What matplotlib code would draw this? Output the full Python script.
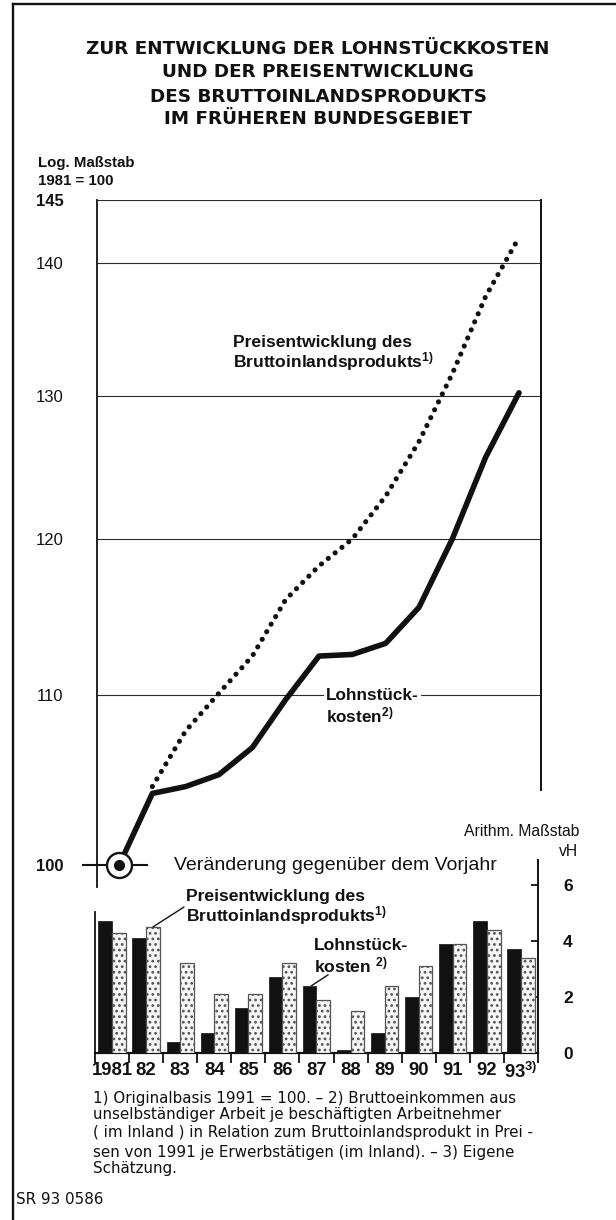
import matplotlib
matplotlib.use('Agg')
import matplotlib.pyplot as plt
from matplotlib.lines import Line2D
import numpy as np

plt.rcParams['font.family'] = ['Liberation Sans', 'DejaVu Sans']
plt.rcParams['mathtext.fontset'] = 'custom'
plt.rcParams['mathtext.rm'] = 'Liberation Sans'
plt.rcParams['mathtext.bf'] = 'Liberation Sans:bold'
plt.rcParams['mathtext.it'] = 'Liberation Sans:italic'
plt.rcParams['hatch.linewidth'] = 1.2

# ---------------- data ----------------
years = [1981, 1982, 1983, 1984, 1985, 1986, 1987, 1988, 1989, 1990, 1991, 1992, 1993]
year_labels = ['1981', '82', '83', '84', '85', '86', '87', '88', '89', '90', '91', '92',
               '93$^{\\mathbf{3)}}$']
# index, log scale, 1981 = 100
lohn_index = [100.0, 104.1, 104.5, 105.2, 106.8, 109.7, 112.4, 112.5, 113.2, 115.5, 120.0, 125.6, 130.2]
preis_index = [100.0, 104.5, 107.8, 110.1, 112.4, 116.0, 118.2, 120.0, 122.9, 126.7, 131.6, 137.4, 142.0]
# change against previous year, vH
lohn_change = [4.7, 4.1, 0.4, 0.7, 1.6, 2.7, 2.4, 0.1, 0.7, 2.0, 3.9, 4.7, 3.7]
preis_change = [4.3, 4.5, 3.2, 2.1, 2.1, 3.2, 1.9, 1.5, 2.4, 3.1, 3.9, 4.4, 3.4]
top_ticks = [100, 110, 120, 130, 140, 145]
top_tick_labels = ['100', '110', '120', '130', '140', '145']
bar_ticks = [0, 2, 4, 6]
bar_tick_labels = ['0', '2', '4', '6']

title_lines = ['ZUR ENTWICKLUNG DER LOHNSTÜCKKOSTEN',
               'UND DER PREISENTWICKLUNG',
               'DES BRUTTOINLANDSPRODUKTS',
               'IM FRÜHEREN BUNDESGEBIET']
footnotes = ['1) Originalbasis 1991 = 100. – 2) Bruttoeinkommen aus',
             'unselbständiger Arbeit je beschäftigten Arbeitnehmer',
             '( im Inland ) in Relation zum Bruttoinlandsprodukt in Prei -',
             'sen von 1991 je Erwerbstätigen (im Inland). – 3) Eigene',
             'Schätzung.']

# ---------------- layout helpers ----------------
W, H = 616, 1220
INK = '#111111'
fig = plt.figure(figsize=(W / 100, H / 100), dpi=100)
fig.patch.set_facecolor('white')


def fx(px):
    return px / W


def fy(py):
    return 1 - py / H


def ftext(px, py, s, **kw):
    kw.setdefault('color', INK)
    return fig.text(fx(px), fy(py), s, **kw)


# outer frame (left and top)
fig.add_artist(Line2D([fx(13), fx(13)], [fy(4), fy(1220)], color=INK, lw=1.7))
fig.add_artist(Line2D([fx(13), fx(616)], [fy(4), fy(4)], color=INK, lw=1.7))

# title
for s, py in zip(title_lines, [49, 72, 97, 119]):
    ftext(318, py, s, ha='center', va='center', fontsize=13.2,
          fontweight='bold', family='DejaVu Sans')

ftext(38, 163, 'Log. Maßstab', ha='left', va='center', fontsize=10.8, fontweight='bold')
ftext(38, 181, '1981 = 100', ha='left', va='center', fontsize=10.8, fontweight='bold')

# ---------------- top (log) chart ----------------
ax = fig.add_axes([fx(97), fy(887), 444 / W, (887 - 200) / H])
ax.set_facecolor('none')
ax.set_yscale('log')
ax.set_ylim(98.8, 145)
ax.set_xlim(1980.34, 1993.66)
# the dotted line is hidden under the solid one in its first segment
ax.plot(years[1:], preis_index[1:], color=INK, lw=3.7, linestyle=(0, (0.01, 1.7)),
        dash_capstyle='round', zorder=3)
ax.plot(years, lohn_index, color=INK, lw=4.0, solid_joinstyle='round',
        solid_capstyle='round', zorder=4)
ax.plot([years[0]], [lohn_index[0]], marker='o', ms=18, mfc='white', mec=INK,
        mew=1.7, zorder=6, clip_on=False)
ax.plot([years[0]], [lohn_index[0]], marker='o', ms=7, mfc=INK, mec=INK,
        zorder=7, clip_on=False)
ax.axhline(top_ticks[0], xmin=-0.032, xmax=0.113, color=INK, lw=1.5,
           clip_on=False, zorder=5)

ax.set_yticks(top_ticks)
ax.set_yticklabels(top_tick_labels)
ax.yaxis.set_minor_locator(matplotlib.ticker.NullLocator())
ax.tick_params(axis='y', length=0, pad=24, labelsize=12, labelcolor=INK)
for lab in ax.get_yticklabels():
    if lab.get_text() in ('100', '145'):
        lab.set_fontweight('bold')
ax.set_xticks([])
ax.grid(axis='y', color='#2a2a2a', lw=0.8)
ax.get_ygridlines()[0].set_visible(False)
for s in ('top', 'bottom'):
    ax.spines[s].set_visible(False)
ax.spines['left'].set_linewidth(1.3)
ax.spines['left'].set_color(INK)
ax.spines['right'].set_linewidth(1.4)
ax.spines['right'].set_color(INK)
ax.spines['right'].set_bounds(104.3, 145)

# annotations in top chart
ftext(233, 342, 'Preisentwicklung des', ha='left', va='center', fontsize=12.6, fontweight='bold')
ftext(233, 362, 'Bruttoinlandsprodukts$^{\\mathbf{1)}}$', ha='left', va='center',
      fontsize=12.6, fontweight='bold')
ftext(326, 695, 'Lohnstück-', ha='left', va='center', fontsize=12.3, fontweight='bold',
      bbox=dict(facecolor='white', edgecolor='none', pad=1.5))
ftext(326, 715, 'kosten$^{\\mathbf{2)}}$', ha='left', va='center', fontsize=12.3, fontweight='bold')

ftext(174, 865, 'Veränderung gegenüber dem Vorjahr', ha='left', va='center', fontsize=14)
ftext(579, 832, 'Arithm. Maßstab', ha='right', va='center', fontsize=11.3,
      bbox=dict(facecolor='white', edgecolor='none', pad=2))
ftext(578, 851, 'vH', ha='right', va='center', fontsize=11.3)

# ---------------- bar chart ----------------
axb = fig.add_axes([fx(95), fy(1053), 443 / W, (1053 - 860) / H])
axb.set_facecolor('none')
axb.set_xlim(1980.5, 1993.5)
axb.set_ylim(0, 6.89)
xs = np.array(years, dtype=float)
axb.bar(xs - 0.2, lohn_change, width=0.4, color=INK, edgecolor=INK, lw=0.5, zorder=3)
axb.bar(xs + 0.2, preis_change, width=0.4, facecolor='#f6f6f6', edgecolor='#555555',
        hatch='...', lw=0.9, zorder=3)

axb.set_xticks(np.arange(1980.5, 1994.0, 1.0))
axb.set_xticklabels([])
axb.set_xticks(years, minor=True)
axb.set_xticklabels(year_labels, minor=True)
axb.tick_params(axis='x', which='major', direction='out', length=7, width=1.3, color=INK)
axb.tick_params(axis='x', which='minor', length=0, pad=6.5, labelsize=13.3)
for lab in axb.get_xticklabels(minor=True):
    lab.set_fontweight('bold')
    lab.set_color(INK)

axb.yaxis.tick_right()
axb.set_yticks(bar_ticks)
axb.set_yticklabels(bar_tick_labels)
axb.tick_params(axis='y', direction='in', length=5, width=1.3, pad=18, labelsize=12.5,
                color=INK, labelcolor=INK)
for lab in axb.get_yticklabels():
    lab.set_fontweight('bold')

axb.spines['top'].set_visible(False)
axb.spines['left'].set_bounds(0, 5.04)
axb.spines['left'].set_linewidth(1.3)
axb.spines['right'].set_linewidth(1.4)
axb.spines['bottom'].set_linewidth(1.6)
for s in ('left', 'right', 'bottom'):
    axb.spines[s].set_color(INK)

# bar annotations with leader lines
ftext(186, 896, 'Preisentwicklung des', ha='left', va='center', fontsize=12.6, fontweight='bold')
ftext(186, 916, 'Bruttoinlandsprodukts$^{\\mathbf{1)}}$', ha='left', va='center',
      fontsize=12.6, fontweight='bold')
axb.annotate('', xy=(years[1] + 0.2, preis_change[1]), xytext=(1983.11, 5.21),
             arrowprops=dict(arrowstyle='-', lw=1.0, color=INK, shrinkA=0, shrinkB=0))
ftext(314, 945, 'Lohnstück-', ha='left', va='center', fontsize=12.6, fontweight='bold')
ftext(314, 965, 'kosten $^{\\mathbf{2)}}$', ha='left', va='center', fontsize=12.6, fontweight='bold')
axb.annotate('', xy=(years[6] - 0.15, lohn_change[6]), xytext=(1987.34, 2.79),
             arrowprops=dict(arrowstyle='-', lw=1.0, color=INK, shrinkA=0, shrinkB=0))

# footnotes
for s, py in zip(footnotes, [1098, 1115, 1133, 1152, 1168]):
    ftext(93, py, s, ha='left', va='center', fontsize=10.9, family='DejaVu Sans')
ftext(16, 1200, 'SR 93 0586', ha='left', va='center', fontsize=10.9, family='DejaVu Sans')

fig.savefig('out.png', dpi=100, facecolor='white')
